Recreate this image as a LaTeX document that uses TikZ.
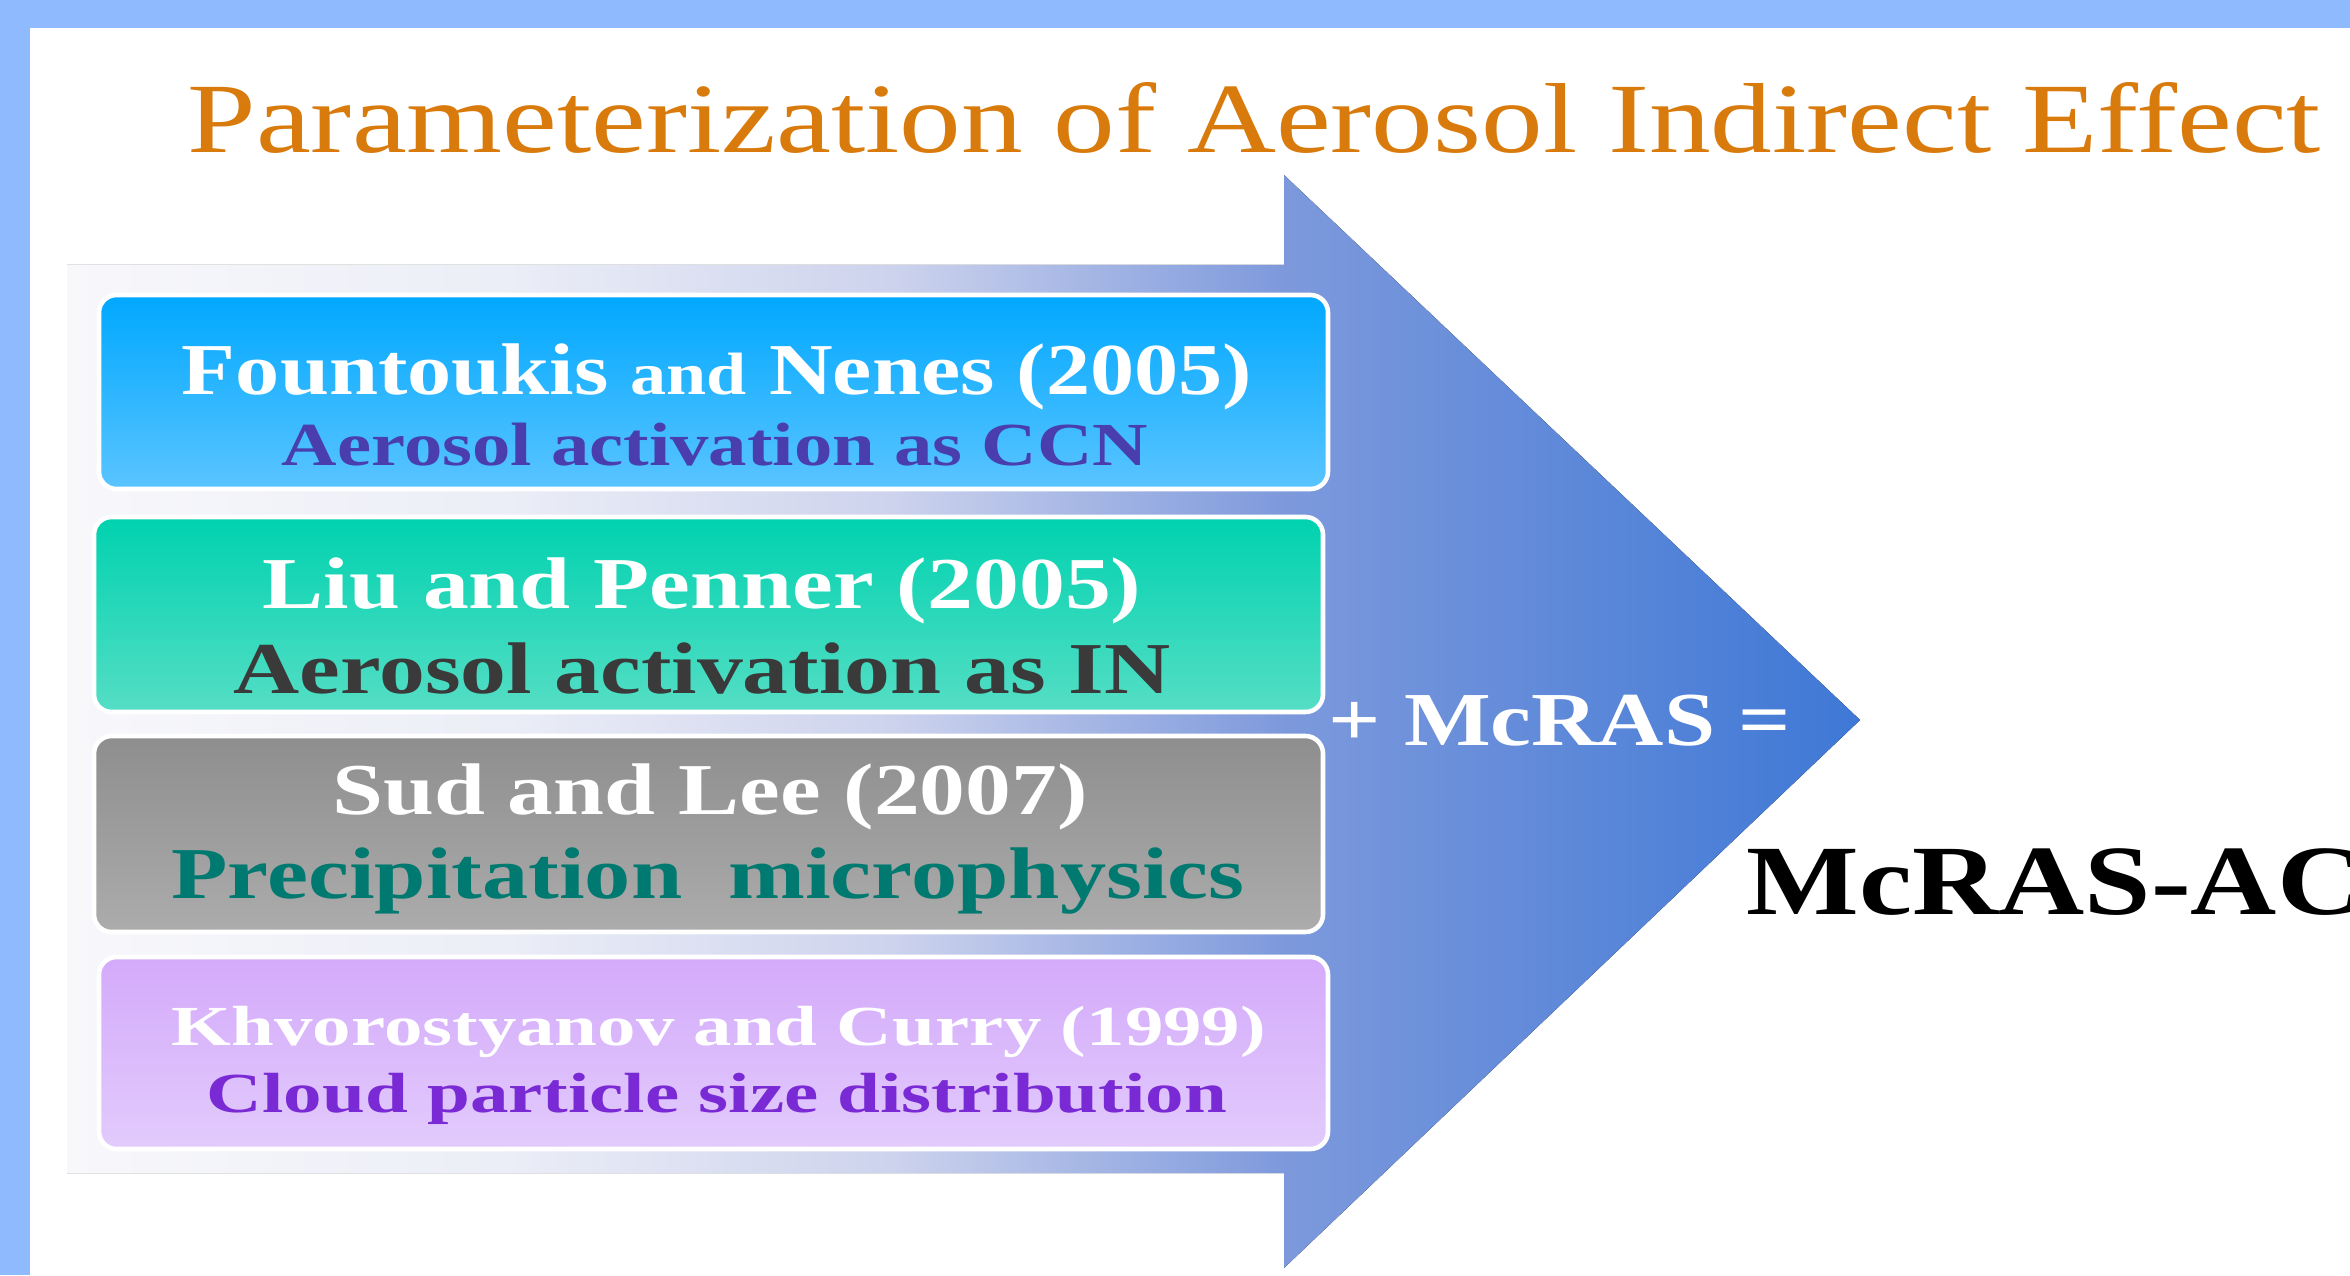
\documentclass[tikz,border=0pt]{standalone}
\usepackage{fontspec}
\setmainfont{Liberation Serif}
\usepackage{graphicx}
\usepackage{xcolor}
\definecolor{frameblue}{HTML}{8FBAFD}
\definecolor{titleorange}{HTML}{D97B0C}
\definecolor{aroA}{HTML}{F8F8FB}
\definecolor{aroB}{HTML}{ECEEF7}
\definecolor{aroC}{HTML}{CDD3ED}
\definecolor{aroD}{HTML}{7D99DC}
\definecolor{aroE}{HTML}{3E78D6}
\definecolor{ccnTop}{HTML}{00A8FF}
\definecolor{ccnBot}{HTML}{5AC4FF}
\definecolor{inTop}{HTML}{00D2AF}
\definecolor{inBot}{HTML}{55DEC5}
\definecolor{micTop}{HTML}{8E8E8E}
\definecolor{micBot}{HTML}{ACACAC}
\definecolor{psdTop}{HTML}{D4AAFB}
\definecolor{psdBot}{HTML}{E2CBFC}
\definecolor{ccnText}{HTML}{4A3DAE}
\definecolor{inText}{HTML}{3A3A3A}
\definecolor{micText}{HTML}{007A70}
\definecolor{psdText}{HTML}{7A2AD4}
\pgfdeclarehorizontalshading{arrowfill}{100bp}{color(0bp)=(aroA); color(25bp)=(aroA);%
	color(37bp)=(aroB); color(48bp)=(aroC); color(59bp)=(aroD); color(75bp)=(aroE); color(100bp)=(aroE)}
\newcommand{\fitto}[2]{\resizebox{#1}{\height}{#2}}
\tikzset{%
	box/.style={draw=white, line width=1.3pt, rounded corners=5pt, rectangle,%
		minimum width=12.29cm, minimum height=1.94cm, inner sep=0mm},
	head/.style={anchor=base, inner sep=0mm, text=white, font=\bfseries\fontsize{20.8}{25}\selectfont},
	sub/.style={anchor=base, inner sep=0mm, font=\bfseries\fontsize{20.8}{25}\selectfont},
	small/.style={font=\bfseries\fontsize{16.1}{19}\selectfont}
}

\begin{document}
\begin{tikzpicture}
	\useasboundingbox (0,0) rectangle (23.5,12.75);
	\clip (0,0) rectangle (23.5,12.75);
	\fill[frameblue] (0,0) rectangle (23.5,12.75);
	\fill[white] (0.30,0) rectangle (23.5,12.47);

	\node[anchor=base west, inner sep=0mm, text=titleorange, font=\fontsize{28.3}{34}\selectfont] (title) at (1.87,11.22)
		{\fitto{21.33cm}{Parameterization of Aerosol Indirect Effect}};

	\fill[shading=arrowfill, shading angle=0] (0.67,10.10) -- (12.84,10.10) -- (12.84,11.00) -- (18.60,5.55)
		-- (12.84,0.07) -- (12.84,1.02) -- (0.67,1.02) -- cycle;

	\node[box, top color=ccnTop, bottom color=ccnBot, minimum height=1.94cm] (ccn) at (7.135,8.83) {};
	\node[box, top color=inTop, bottom color=inBot, minimum height=1.95cm] (in) at (7.085,6.605) {};
	\node[box, top color=micTop, bottom color=micBot, minimum height=1.96cm] (mic) at (7.085,4.41) {};
	\node[box, top color=psdTop, bottom color=psdBot, minimum height=1.92cm] (psd) at (7.135,2.22) {};

	\node[head] (ccnref) at (7.17,8.80)
		{\fitto{10.70cm}{Fountoukis {\fontsize{17}{20}\selectfont and} Nenes (2005)}};
	\node[sub, text=ccnText, font=\bfseries\fontsize{17.4}{21}\selectfont] (ccnsub) at (7.15,8.10)
		{\fitto{8.66cm}{Aerosol activation as CCN}};
	\node[head] (inref) at (7.02,6.67) {\fitto{8.79cm}{Liu and Penner (2005)}};
	\node[sub, text=inText] (insub) at (7.02,5.82) {\fitto{9.37cm}{Aerosol activation as IN}};
	\node[head] (micref) at (7.10,4.61) {\fitto{7.55cm}{Sud and Lee (2007)}};
	\node[sub, text=micText] (micsub) at (7.08,3.77) {\fitto{10.73cm}{Precipitation\ \ microphysics}};
	\node[head, small] (psdref) at (7.19,2.30) {\fitto{10.94cm}{Khvorostyanov and Curry (1999)}};
	\node[sub, small, text=psdText] (psdsub) at (7.17,1.63) {\fitto{10.20cm}{Cloud particle size distribution}};

	\node[anchor=base west, inner sep=0mm, text=white, font=\bfseries\fontsize{21.7}{26}\selectfont] (plus) at (13.28,5.30)
		{\fitto{4.62cm}{+ McRAS =}};
	\node[anchor=base west, inner sep=0mm, font=\bfseries\fontsize{28.3}{34}\selectfont] (result) at (17.46,3.61)
		{\scalebox{1.2}[1]{McRAS-AC}};
\end{tikzpicture}
\end{document}
